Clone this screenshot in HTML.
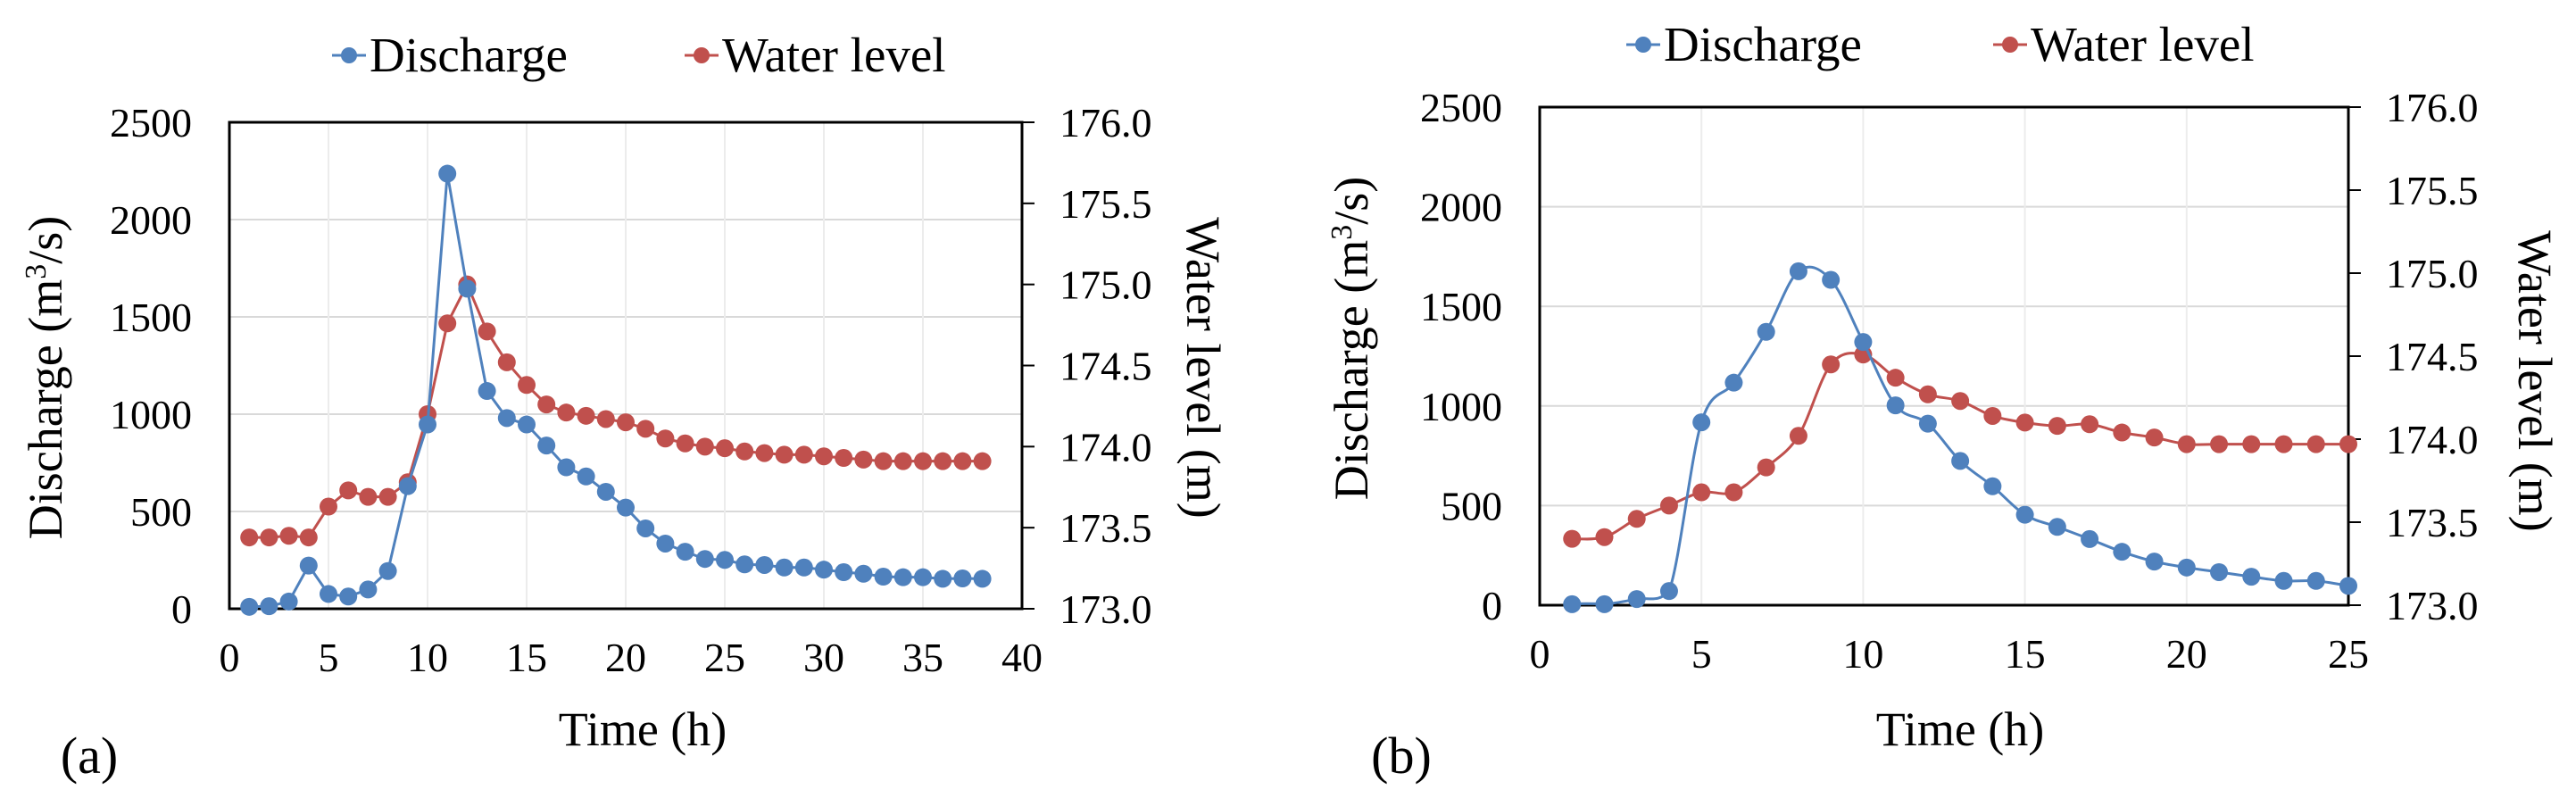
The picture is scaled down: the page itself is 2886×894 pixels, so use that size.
<!DOCTYPE html>
<html><head><meta charset="utf-8"><style>
html,body{margin:0;padding:0;background:#fff;}
svg, svg text{font-family:"Liberation Serif","Times New Roman",serif;}
</style></head><body>
<svg id="fig" width="2886" height="889" viewBox="0 0 2886 889" font-family="Liberation Serif, serif"></svg>
<script>
const timeA = [1,2,3,4,5,6,7,8,9,10,11,12,13,14,15,16,17,18,19,20,21,22,23,24,25,26,27,28,29,30,31,32,33,34,35,36,37,38];
const dischargeA = [10,13,37,222,76,63,99,194,630,947,2236,1645,1119,980,947,839,727,680,601,520,413,335,293,256,251,228,225,212,212,201,188,180,165,162,162,154,156,154];
const levelA = [173.44,173.44,173.45,173.44,173.63,173.73,173.69,173.69,173.78,174.2,174.76,175.0,174.71,174.52,174.38,174.26,174.21,174.19,174.17,174.15,174.11,174.05,174.02,174.0,173.99,173.97,173.96,173.95,173.95,173.94,173.93,173.92,173.91,173.91,173.91,173.91,173.91,173.91];
const timeB = [1,2,3,4,5,6,7,8,9,10,11,12,13,14,15,16,17,18,19,20,21,22,23,24,25];
const dischargeB = [5,5,31,71,918,1117,1372,1676,1633,1321,1003,911,724,597,454,393,332,268,219,189,166,143,122,122,97];
const levelB = [173.40,173.41,173.52,173.60,173.68,173.68,173.83,174.02,174.45,174.51,174.37,174.27,174.23,174.14,174.10,174.08,174.09,174.04,174.01,173.97,173.97,173.97,173.97,173.97,173.97];
const qTicks = [0,500,1000,1500,2000,2500];
const wTicks = [173.0,173.5,174.0,174.5,175.0,175.5,176.0];
const xTicksA = [0,5,10,15,20,25,30,35,40];
const xTicksB = [0,5,10,15,20,25];

const NS="http://www.w3.org/2000/svg";
const svg=document.getElementById('fig');
const FF='Liberation Serif, Times New Roman, serif';
function mk(tag,attrs,parent){const e=document.createElementNS(NS,tag);for(const k in attrs)e.setAttribute(k,attrs[k]);(parent||svg).appendChild(e);return e;}
function txt(s,attrs,parent){attrs['font-family']=FF;const e=mk('text',attrs,parent);e.textContent=s;return e;}
function smoothPath(pts,maxY){let d='M'+pts[0][0]+','+pts[0][1];const cl=y=>Math.min(y,maxY);for(let i=0;i<pts.length-1;i++){const p0=pts[Math.max(0,i-1)],p1=pts[i],p2=pts[i+1],p3=pts[Math.min(pts.length-1,i+2)];const t=6;d+=' C'+(p1[0]+(p2[0]-p0[0])/t)+','+cl(p1[1]+(p2[1]-p0[1])/t)+' '+(p2[0]-(p3[0]-p1[0])/t)+','+cl(p2[1]-(p3[1]-p1[1])/t)+' '+p2[0]+','+p2[1];}return d;}

function chart(c){
  const g=mk('g',{});
  
  
  const X=v=>c.L+(v-c.xMin)/(c.xMax-c.xMin)*(c.R-c.L);
  const Y=v=>c.B-(v/2500)*(c.B-c.T);
  const W=v=>c.B-(v-173)/3*(c.B-c.T);
  qTicks.forEach(t=>{const l=mk('line',{x1:c.L,x2:c.R,y1:Y(t),y2:Y(t),stroke:'#d9d9d9','stroke-width':2},g);});
  c.xTicks.forEach(t=>{const l=mk('line',{x1:X(t),x2:X(t),y1:c.T,y2:c.B,stroke:'#ececec','stroke-width':2},g);});
  const f=mk('rect',{x:c.L,y:c.T,width:c.R-c.L,height:c.B-c.T,fill:'none',stroke:'#000','stroke-width':3},g);
  
  wTicks.forEach(t=>{mk('line',{x1:c.R,x2:c.R+14,y1:W(t),y2:W(t),stroke:'#000','stroke-width':2},g);
    const e=txt(t.toFixed(1),{x:c.R+42,y:W(t)+16,'font-size':46,fill:'#000'},g);});
  qTicks.forEach(t=>{const e=txt(String(t),{x:c.L-42,y:Y(t)+16,'font-size':46,'text-anchor':'end',fill:'#000'},g);});
  c.xTicks.forEach(t=>{const e=txt(String(t),{x:X(t),y:c.B+70,'font-size':46,'text-anchor':'middle',fill:'#000'},g);});
  const series=[[c.level,W,'#c0504d','water-level'],[c.q,Y,'#4f81bd','discharge']];
  series.forEach(([vals,F,col,nm])=>{
    const pts=c.t.map((tt,i)=>[X(tt),F(vals[i])]);
    const d=c.smooth?smoothPath(pts,c.B-2):'M'+pts.map(p=>p[0]+','+p[1]).join(' L');
    const p=mk('path',{d:d,fill:'none',stroke:col,'stroke-width':3},g);
    
    pts.forEach(pt=>{const m=mk('circle',{cx:pt[0],cy:pt[1],r:10,fill:col},g);});
  });
  let e=txt('Time (h)',{x:c.timeX,y:835,'font-size':54,'text-anchor':'middle'},g);
  e=mk('text',{transform:'translate('+(c.lTitleX+18)+','+c.lTitleY+') rotate(-90)','font-size':54,'text-anchor':'middle','font-family':FF},g);
  e.innerHTML='Discharge (m<tspan dy="-18" font-size="34">3</tspan><tspan dy="18">/s)</tspan>';
  
  e=txt('Water level (m)',{transform:'translate('+(c.rTitleX-18)+','+c.rTitleY+') rotate(90)','font-size':54,'text-anchor':'middle'},g);
  
  e=txt(c.label,{x:c.labelX,y:866,'font-size':58,'text-anchor':'middle'},g);
  [[c.legQ,'#4f81bd','Discharge','legend-discharge'],[c.legW,'#c0504d','Water level','legend-water-level']].forEach(([x,col,s,nm])=>{
    const lg=mk('g',{},g);
    mk('line',{x1:x,x2:x+38,y1:c.legY,y2:c.legY,stroke:col,'stroke-width':3},lg);
    mk('circle',{cx:x+19,cy:c.legY,r:9,fill:col},lg);
    txt(s,{x:x+42,y:c.legY+18,'font-size':55},lg);
  });
}
chart({name:'chart-a',L:257,R:1145,T:137,B:682,xMin:0,xMax:40,xTicks:xTicksA,t:timeA,q:dischargeA,level:levelA,smooth:false,
  timeX:720,lTitleX:51,lTitleY:423,rTitleX:1348,rTitleY:412,label:'(a)',labelX:100,legQ:372,legW:767,legY:62});
chart({name:'chart-b',L:1725,R:2631,T:120,B:678,xMin:0,xMax:25,xTicks:xTicksB,t:timeB,q:dischargeB,level:levelB,smooth:true,
  timeX:2196,lTitleX:1514,lTitleY:379,rTitleX:2840,rTitleY:427,label:'(b)',labelX:1570,legQ:1822,legW:2233,legY:50});
</script>
</body></html>
